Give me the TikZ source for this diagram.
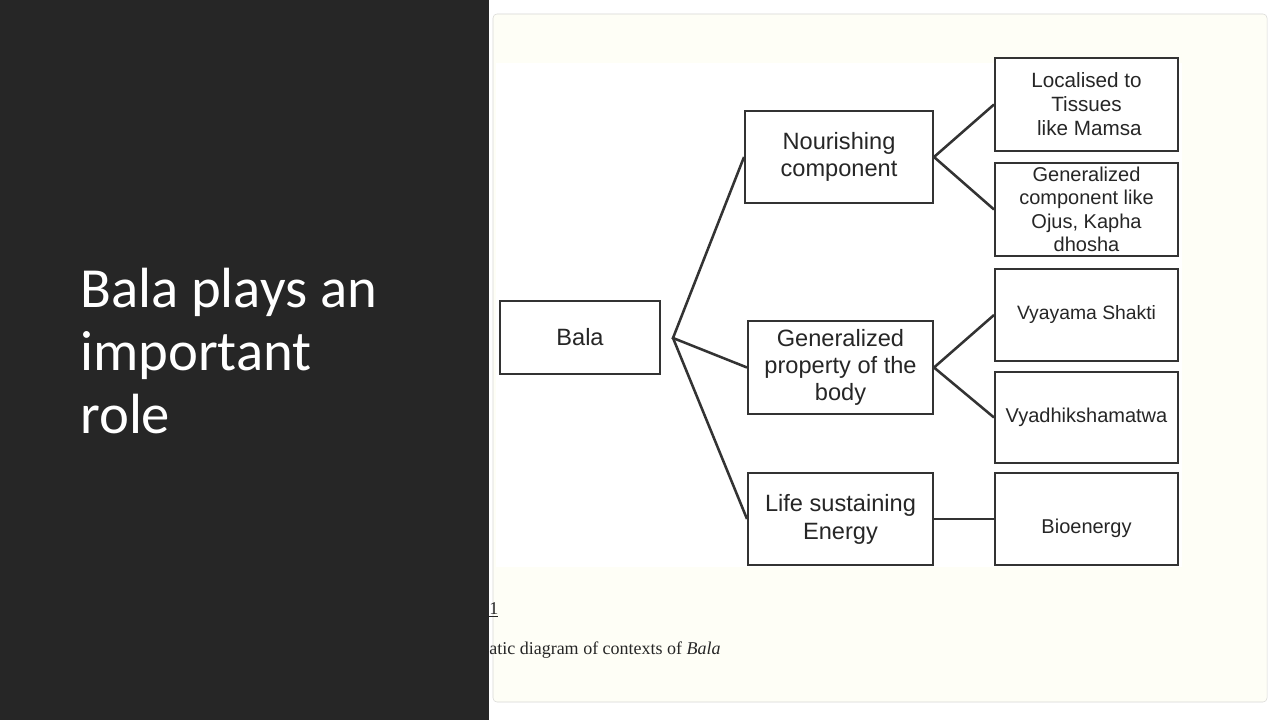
\documentclass[tikz,border=0pt]{standalone}
\usepackage{fontspec}
\setmainfont{Liberation Sans}
\newfontfamily\titlefont{Carlito}
\newfontfamily\capfont{Liberation Serif}

\definecolor{panel}{HTML}{262626}
\definecolor{cardbg}{HTML}{FEFEF6}
\definecolor{cardline}{HTML}{D9D9D6}
\definecolor{boxline}{HTML}{333333}
\definecolor{ink}{HTML}{262626}

\newcommand{\boxfont}[2]{\fontsize{#1}{#2}\selectfont}

\tikzset{
  blk/.style 2 args={draw=boxline, line width=1.5pt, fill=white, text=ink,
    minimum width=#1*0.75pt, minimum height=#2*0.75pt, inner sep=0pt,
    align=center, font=\boxfont{15}{18}},
  link/.style={draw=boxline, line width=1.9pt},
}

\begin{document}
\begin{tikzpicture}[x=0.75pt, y=-0.75pt]
\useasboundingbox (0,0) rectangle (1280,720);
\fill[white] (0,0) rectangle (1280,720);
% card with the figure
\draw[cardline, fill=cardbg, rounded corners=3pt] (493,14) rectangle (1267,702);
\fill[white] (496,63) rectangle (1182,567);

\node[blk={160}{73}, font=\boxfont{17.7}{20.5}] (bala) at (580,337) {Bala};
\coordinate (split) at (673,338);

\node[blk={188}{92}, font=\boxfont{17.7}{20.5}] (nour) at (839,157) {Nourishing\\component};
\node[blk={185}{93}, font=\boxfont{17.7}{20.5}] (prop) at (840.5,367.5) {Generalized\\property of the\\body};
\node[blk={185}{92}, font=\boxfont{17.7}{21}] (life) at (840.5,519) {Life sustaining\\Energy};

\node[blk={183}{93}, font=\boxfont{15.5}{18}] (loc) at (1086.5,104.5) {Localised to\\Tissues\\\ like Mamsa};
\node[blk={183}{93}, font=\boxfont{15}{17.5}] (gcomp) at (1086.5,209.5) {Generalized\\component like\\Ojus, Kapha\\dhosha};
\node[blk={183}{92}, font=\boxfont{14.5}{18}] (vya) at (1086.5,315) {Vyayama Shakti};
\node[blk={183}{91}] (vyad) at (1086.5,417.5) {Vyadhikshamatwa};
\node[blk={183}{92}] (bio) at (1086.5,519) {\raisebox{-6.75pt}[\height][\depth]{Bioenergy}};

\draw[link] (nour.west) -- (split) -- (prop.west);
\draw[link] (split) -- (life.west);
\draw[link] (loc.west) -- (nour.east) -- (gcomp.west);
\draw[link] (vya.west) -- (prop.east) -- (vyad.west);
\draw[link] (life.east) -- (bio.west);

% caption, partly hidden by the panel
\node[anchor=base west, inner sep=0pt, text=ink, font=\capfont\fontsize{13.5}{16}\selectfont] (fignum) at (489,614) {\underline{1}};
\node[anchor=base west, inner sep=0pt, text=ink, font=\capfont\fontsize{13.5}{16}\selectfont] (caption) at (489,654) {atic diagram of contexts of \textit{Bala}};

% dark side panel
\fill[panel] (0,0) rectangle (489,720);
\node[anchor=base west, align=left, inner sep=0pt, text=white, font=\titlefont\fontsize{42.5}{47}\selectfont] (title) at (80,433) {Bala plays an\\important\\role};
\end{tikzpicture}
\end{document}
